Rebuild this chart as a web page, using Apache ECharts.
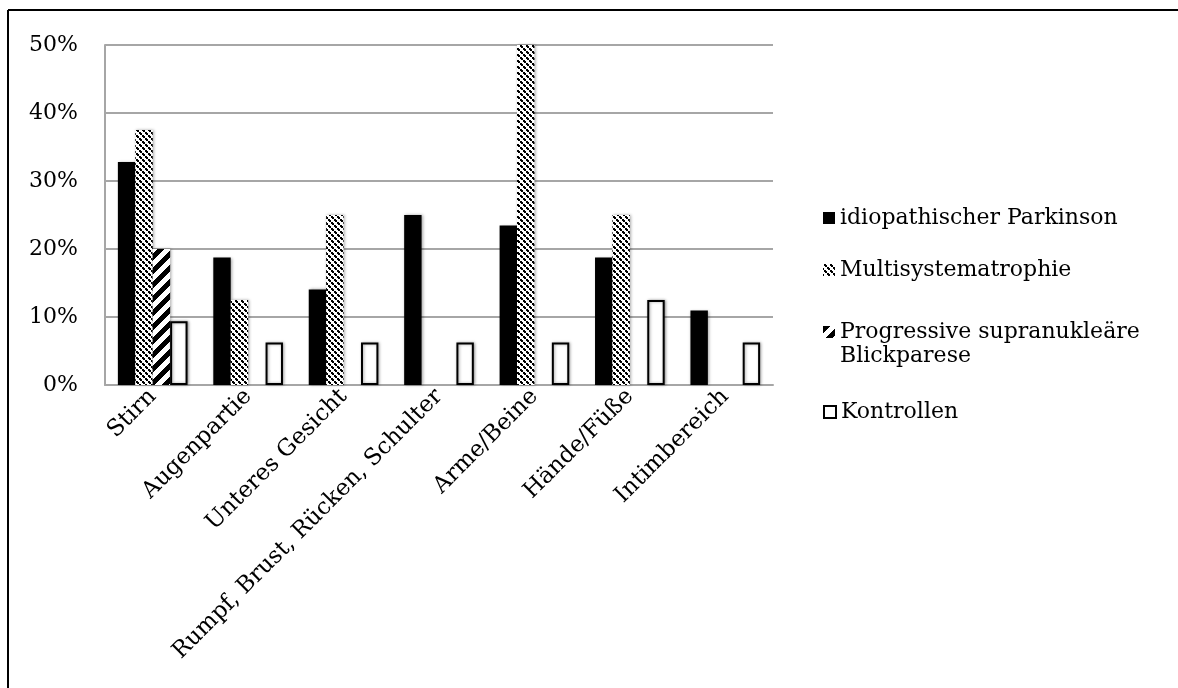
<!DOCTYPE html>
<html>
<head>
<meta charset="utf-8">
<script src="https://cdn.jsdelivr.net/npm/echarts@6/dist/echarts.min.js"></script>
<style>
html,body{margin:0;padding:0;background:#fff;}
#chart{width:1178px;height:688px;}
</style>
</head>
<body>
<div id="chart"></div>
<script>
const categories = ['Stirn','Augenpartie','Unteres Gesicht','Rumpf, Brust, Rücken, Schulter','Arme/Beine','Hände/Füße','Intimbereich'];
const seriesNames = ['idiopathischer Parkinson','Multisystematrophie','Progressive supranukleäre Blickparese','Kontrollen'];
const idiopathischerParkinson = [32.8, 18.75, 14.06, 25, 23.44, 18.75, 10.94];
const multisystematrophie = [37.5, 12.5, 25, 0, 50, 25, 0];
const progressiveBlickparese = [20, 0, 0, 0, 0, 0, 0];
const kontrollen = [9.375, 6.25, 6.25, 6.25, 6.25, 12.5, 6.25];
const yTicks = [0, 10, 20, 30, 40, 50];

function makePattern(size, fn) {
  const c = document.createElement('canvas');
  c.width = size; c.height = size;
  const ctx = c.getContext('2d');
  ctx.fillStyle = '#fff';
  ctx.fillRect(0, 0, size, size);
  ctx.fillStyle = '#000';
  for (let x = 0; x < size; x++) for (let y = 0; y < size; y++) if (fn(x, y, size)) ctx.fillRect(x, y, 1, 1);
  return c;
}
const msaPat = makePattern(6, (x, y, s) => {
  const d = ((x - y) % s + s) % s;
  const e = (x + y) % s;
  return d <= 2 && e !== 0;
});
const pspPat = makePattern(14, (x, y, s) => ((x + y) % s) < 7);

const FONT = 'DejaVu Serif';
const FS = 22;
const LH = 26;
const shadow = {shadowColor: 'rgba(0,0,0,0.35)', shadowBlur: 3, shadowOffsetX: 1, shadowOffsetY: 0};

const chart = echarts.init(document.getElementById('chart'), null, {renderer: 'canvas'});
const legendBase = {
  orient: 'vertical', left: 818, itemWidth: 12, itemHeight: 12, icon: 'rect', itemGap: 0,
  textStyle: {fontFamily: FONT, fontSize: FS, color: '#000', lineHeight: LH}
};
chart.setOption({
  animation: false,
  backgroundColor: '#fff',
  textStyle: {fontFamily: FONT},
  grid: {left: 105, right: 405, top: 45, bottom: 303, containLabel: false},
  legend: [
    Object.assign({}, legendBase, {top: 213 - LH / 2, data: [seriesNames[0]]}),
    Object.assign({}, legendBase, {top: 265 - LH / 2, data: [seriesNames[1]]}),
    Object.assign({}, legendBase, {top: 327 - 24 * 1.5, data: [seriesNames[2]],
      textStyle: {fontFamily: FONT, fontSize: FS, color: '#000', lineHeight: 24},
      formatter: n => '\n' + n.replace(' Blickparese', '\nBlickparese')}),
    Object.assign({}, legendBase, {top: 407 - LH / 2, data: [seriesNames[3]]})
  ],
  xAxis: {
    type: 'category', data: categories,
    axisLine: {lineStyle: {color: '#a6a6a6', width: 2}},
    axisTick: {show: false},
    axisLabel: {rotate: 45, interval: 0, margin: 8, color: '#000', fontFamily: FONT, fontSize: 23}
  },
  yAxis: {
    type: 'value', min: 0, max: 50, interval: 10,
    axisLine: {show: true, lineStyle: {color: '#a6a6a6', width: 2}},
    axisTick: {show: false},
    splitLine: {lineStyle: {color: '#a6a6a6', width: 2}},
    axisLabel: {formatter: v => yTicks.includes(v) ? v + '%' : '', color: '#000', fontFamily: FONT, fontSize: FS, margin: 27}
  },
  series: [
    {name: seriesNames[0], type: 'bar', data: idiopathischerParkinson, barGap: '0%', barCategoryGap: '27%',
      itemStyle: Object.assign({color: '#000'}, shadow)},
    {name: seriesNames[1], type: 'bar', data: multisystematrophie,
      itemStyle: Object.assign({color: {image: msaPat, repeat: 'repeat'}}, shadow)},
    {name: seriesNames[2], type: 'bar', data: progressiveBlickparese,
      itemStyle: Object.assign({color: {image: pspPat, repeat: 'repeat'}}, shadow)},
    {name: seriesNames[3], type: 'bar', data: kontrollen,
      itemStyle: Object.assign({color: '#fff', borderColor: '#000', borderWidth: 2}, shadow)}
  ],
  graphic: [
    {type: 'line', shape: {x1: 8, y1: 10, x2: 8, y2: 688}, style: {stroke: '#000', lineWidth: 2}},
    {type: 'line', shape: {x1: 8, y1: 10, x2: 1178, y2: 10}, style: {stroke: '#000', lineWidth: 2}}
  ]
});
</script>
</body>
</html>
